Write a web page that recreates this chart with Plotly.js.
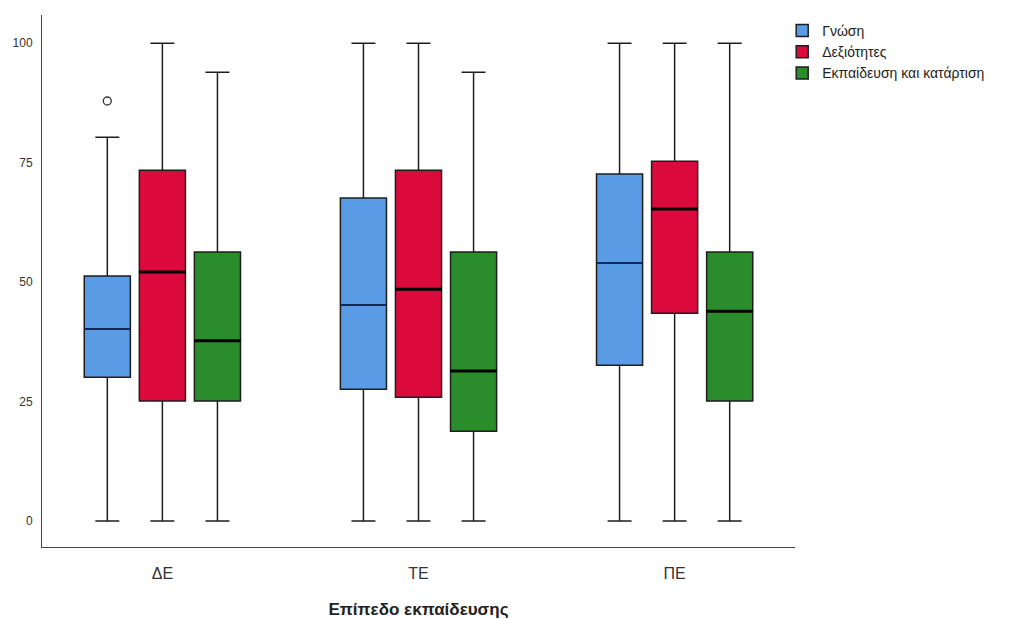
<!DOCTYPE html>
<html>
<head>
<meta charset="utf-8">
<script src="https://cdn.plot.ly/plotly-3.0.1.min.js"></script>
<style>html,body{margin:0;padding:0;background:#fff;}#chart{width:1016px;height:619px;}</style>
</head>
<body>
<div id="chart"></div>
<script>
// Data
var categories = ["ΔΕ", "ΤΕ", "ΠΕ"];
var seriesNames = ["Γνώση", "Δεξιότητες", "Εκπαίδευση και κατάρτιση"];
var lowerWhisker = {
  "Γνώση": [0, 0, 0],
  "Δεξιότητες": [0, 0, 0],
  "Εκπαίδευση και κατάρτιση": [0, 0, 0]
};
var q1Values = {
  "Γνώση": [30.1, 27.6, 32.6],
  "Δεξιότητες": [25.1, 25.9, 43.5],
  "Εκπαίδευση και κατάρτιση": [25.1, 18.8, 25.1]
};
var medianValues = {
  "Γνώση": [40.2, 45.2, 54.0],
  "Δεξιότητες": [52.1, 48.5, 65.3],
  "Εκπαίδευση και κατάρτιση": [37.7, 31.4, 43.9]
};
var q3Values = {
  "Γνώση": [51.3, 67.6, 72.6],
  "Δεξιότητες": [73.4, 73.4, 75.3],
  "Εκπαίδευση και κατάρτιση": [56.3, 56.3, 56.3]
};
var upperWhisker = {
  "Γνώση": [80.3, 100, 100],
  "Δεξιότητες": [100, 100, 100],
  "Εκπαίδευση και κατάρτιση": [93.9, 93.9, 100]
};
var outlierSeries = ["Γνώση"];
var outlierCategory = [0];
var outlierValues = [87.9];
var yTicks = [0, 25, 50, 75, 100];

// styling
var colors = {"Γνώση": "#5a9be6", "Δεξιότητες": "#dc0a3c", "Εκπαίδευση και κατάρτιση": "#2a8c2a"};
var offsets = [-0.215, 0, 0.215];
var boxW = 0.18;

var traces = [];
seriesNames.forEach(function (s, si) {
  var xs = categories.map(function (c, ci) { return ci + offsets[si]; });
  traces.push({
    type: "box",
    name: s,
    x: xs,
    q1: q1Values[s],
    median: medianValues[s],
    q3: q3Values[s],
    lowerfence: lowerWhisker[s],
    upperfence: upperWhisker[s],
    width: boxW,
    whiskerwidth: 0.52,
    fillcolor: colors[s],
    line: {color: "#1e1e1e", width: 1.5},
    hoverinfo: "y"
  });
});
// thick median bars
seriesNames.forEach(function (s, si) {
  var mx = [], my = [];
  categories.forEach(function (c, ci) {
    var x0 = ci + offsets[si];
    mx.push(x0 - boxW / 2, x0 + boxW / 2, null);
    my.push(medianValues[s][ci], medianValues[s][ci], null);
  });
  traces.push({
    type: "scatter", mode: "lines", x: mx, y: my,
    line: {color: si === 0 ? "#102a5a" : "#000", width: si === 0 ? 2 : 3},
    showlegend: false, hoverinfo: "skip"
  });
});
// outliers
traces.push({
  type: "scatter", mode: "markers",
  x: outlierCategory.map(function (ci, i) { return ci + offsets[seriesNames.indexOf(outlierSeries[i])]; }),
  y: outlierValues,
  marker: {symbol: "circle-open", size: 8, color: "#333", line: {width: 1.3}},
  showlegend: false, hoverinfo: "y"
});

var layout = {
  width: 1016, height: 619,
  margin: {l: 42, r: 221, t: 15, b: 72},
  paper_bgcolor: "#fff", plot_bgcolor: "#fff",
  font: {family: "Liberation Sans, Arial, sans-serif", color: "#333"},
  showlegend: true,
  legend: {
    x: 0.983, xanchor: "left", y: 1.0, yanchor: "top",
    font: {size: 14, color: "#222"},
    itemwidth: 30, tracegroupgap: 0, bgcolor: "rgba(0,0,0,0)"
  },
  xaxis: {
    range: [-0.47, 2.47],
    tickmode: "array", tickvals: [0, 1, 2], ticktext: categories,
    showgrid: false, zeroline: false,
    showline: true, linecolor: "#444", linewidth: 1,
    ticks: "", ticklabelstandoff: 12, tickfont: {size: 16, color: "#333"},
    title: {text: "<b>Επίπεδο εκπαίδευσης</b>", font: {size: 17, color: "#222"}, standoff: 22}
  },
  yaxis: {
    range: [-5.44, 105.9],
    tickmode: "array", tickvals: yTicks,
    showgrid: false, zeroline: false,
    showline: true, linecolor: "#444", linewidth: 1,
    ticks: "", ticklabelstandoff: 6, tickfont: {size: 12, color: "#333"}
  }
};

Plotly.newPlot("chart", traces, layout, {displayModeBar: false, staticPlot: true});
</script>
</body>
</html>
